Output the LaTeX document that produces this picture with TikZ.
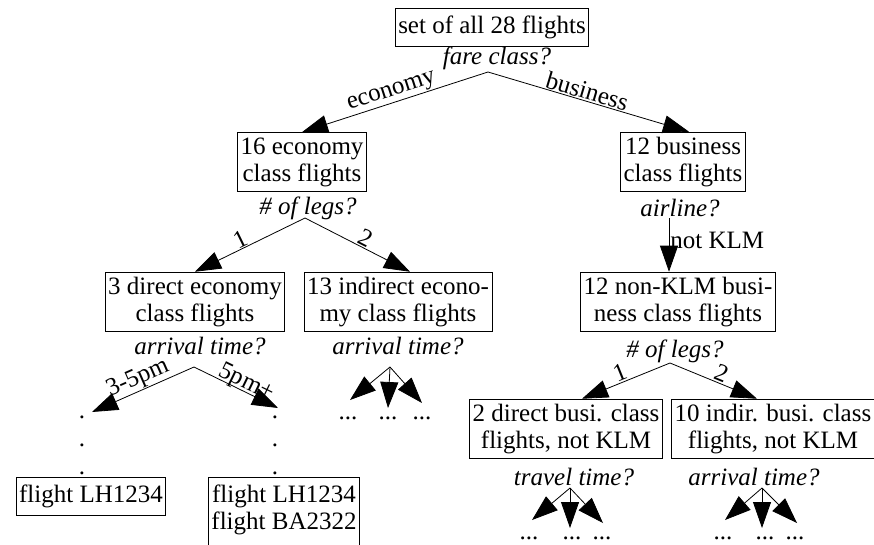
\documentclass[tikz,border=0pt]{standalone}
\usepackage{fontspec}
\setmainfont{Liberation Serif}
\usetikzlibrary{arrows.meta}
\begin{document}
\begin{tikzpicture}[x=1pt,y=-1pt,
  box/.style={draw,line width=0.8pt,inner xsep=3pt,inner ysep=5pt,align=center,font=\fontsize{25}{27}\selectfont},
  onebox/.style={box,inner ysep=7.5pt},
  q/.style={font=\fontsize{25}{27}\selectfont\itshape,inner sep=0pt},
  lab/.style={font=\fontsize{25}{27}\selectfont,inner sep=1pt,sloped,above},
  arr/.style={line width=0.8pt,-{Triangle[length=26pt,width=18pt]}},
  dts/.style={font=\fontsize{25}{27}\selectfont,inner sep=0pt,anchor=base}
]
\useasboundingbox (0,0) rectangle (874,544);
% boxes
\node[onebox] (root) at (492,27) {set of all 28 flights};
\node[box] (eco) at (302,162) {16 economy\\class flights};
\node[box] (bus) at (683,162) {12 business\\class flights};
\node[box] (eco1) at (195,302) {3 direct economy\\class flights};
\node[box] (eco2) at (398,302) {13 indirect econo-\\my class flights};
\node[box] (busn) at (678,302) {12 non-KLM busi-\\ness class flights};
\node[box] (bus1) at (566,429) {2 direct busi. class\\flights, not KLM};
\node[box] (bus2) at (773,429) {10 indir. busi. class\\flights, not KLM};
\node[onebox] (lh) at (91,496) {flight LH1234};
\node[onebox,anchor=north] (lhba) at (284,477) {flight LH1234\\flight BA2322\rule[-9pt]{0pt}{1pt}};
% questions
\node[q] (q0) at (497,58) {fare class?};
\node[q] (q1) at (308,208) {\# of legs?};
\node[q] (q2) at (680,208) {airline?};
\node[q] (q3) at (200,346) {arrival time?};
\node[q] (q4) at (398,346) {arrival time?};
\node[q] (q5) at (675,351) {\# of legs?};
\node[q] (q6) at (574,477) {travel time?};
\node[q] (q7) at (754,477) {arrival time?};
% apexes
\coordinate (p0) at (488,72);
\coordinate (p1) at (305,218);
\coordinate (p2) at (669,218);
\coordinate (p3) at (194,367);
\coordinate (p4) at (390,367);
\coordinate (p5) at (670,363);
\coordinate (p6) at (570,488);
\coordinate (p7) at (762,488);
% top level
\draw[arr] (p0) -- (eco.north) node[lab,pos=.5] {economy};
\draw[arr] (p0) -- ([xshift=6pt]bus.north) node[lab,pos=.48] {business};
\draw[arr] (p1) -- (eco1.north) node[lab,pos=.55] {1};
\draw[arr] (p1) -- ([xshift=12pt]eco2.north) node[lab,pos=.54] {2};
\draw[arr] (p2) -- (p2 |- busn.north) node[right,inner sep=1pt,pos=.42,font=\fontsize{25}{27}\selectfont] {not KLM};
\draw[arr] (p5) -- ([xshift=16pt]bus1.north) node[lab,pos=.53] {1};
\draw[arr] (p5) -- ([xshift=-16pt]bus2.north) node[lab,pos=.55] {2};
% arrival time branches
\coordinate (t3a) at (92,412);
\coordinate (t3b) at (278,408);
\draw[arr] (p3) -- (t3a) node[lab,pos=.5] {3-5pm};
\draw[arr] (p3) -- (t3b) node[lab,pos=.58,inner sep=-3pt] {5pm+};
\foreach \y [count=\i] in {418,446,474}{
  \node[dts] (dl\i) at (82,\y) {.};
  \node[dts] (dr\i) at (275,\y) {.};
}
% small clusters
\coordinate (m1) at (350,400);
\coordinate (m2) at (388,408);
\coordinate (m3) at (422,403);
\draw[arr] (p4) -- (m1);
\draw[arr] (p4) -- (m2);
\draw[arr] (p4) -- (m3);
\node[dts] (md1) at (348,419) {...};
\node[dts] (md2) at (388,419) {...};
\node[dts] (md3) at (422,419) {...};
\coordinate (a1) at (532,520);
\coordinate (a2) at (570,528);
\coordinate (a3) at (603,523);
\draw[arr] (p6) -- (a1);
\draw[arr] (p6) -- (a2);
\draw[arr] (p6) -- (a3);
\node[dts] (ad1) at (529,539) {...};
\node[dts] (ad2) at (572,539) {...};
\node[dts] (ad3) at (602,539) {...};
\coordinate (b1) at (725,520);
\coordinate (b2) at (762,528);
\coordinate (b3) at (797,523);
\draw[arr] (p7) -- (b1);
\draw[arr] (p7) -- (b2);
\draw[arr] (p7) -- (b3);
\node[dts] (bd1) at (723,539) {...};
\node[dts] (bd2) at (765,539) {...};
\node[dts] (bd3) at (795,539) {...};
\end{tikzpicture}
\end{document}
